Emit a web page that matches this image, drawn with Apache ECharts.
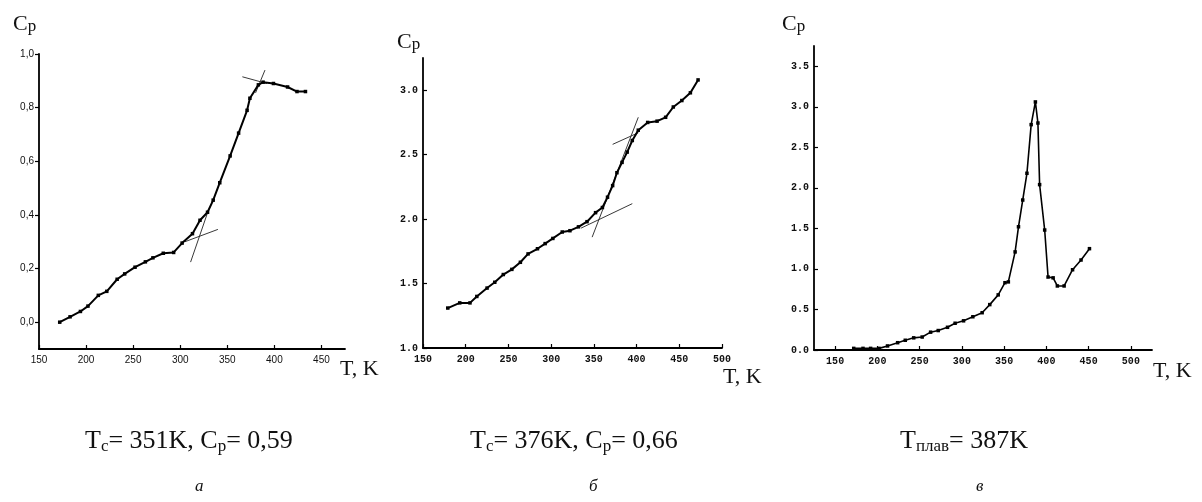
<!DOCTYPE html>
<html><head><meta charset="utf-8">
<script src="https://cdn.jsdelivr.net/npm/echarts@6/dist/echarts.min.js"></script>
<style>html,body{margin:0;padding:0;background:#fff}#c{width:1202px;height:502px}</style>
</head><body><div id="c"></div>
<script>
// ---- data ----
const tA  = [172,183,194,202,213,222,233,241,252,263,271,282,293,302,313,321,329,335,342,353,362,371,374,383,388,399,414,424,433];
const cpA = [0.00,0.02,0.04,0.06,0.10,0.115,0.16,0.18,0.205,0.225,0.24,0.257,0.26,0.295,0.33,0.38,0.41,0.455,0.52,0.62,0.705,0.79,0.835,0.885,0.895,0.89,0.877,0.86,0.86];
const tanA1 = [[305,0.30],[340,0.346]];
const tanA2 = [[311,0.224],[330,0.418]];
const tanA3 = [[366,0.915],[392,0.89]];
const tanA4 = [[380,0.855],[390,0.94]];

const tB  = [179,193,205,213,225,234,244,254,264,273,284,293,302,313,322,332,342,352,360,366,372,377,383,389,395,402,413,424,434,443,453,463,472];
const cpB = [1.31,1.35,1.35,1.40,1.465,1.51,1.57,1.61,1.665,1.73,1.77,1.81,1.85,1.90,1.91,1.94,1.98,2.05,2.09,2.17,2.26,2.36,2.44,2.52,2.61,2.69,2.75,2.76,2.79,2.87,2.92,2.98,3.08];
const tanB1 = [[335,1.93],[395,2.12]];
const tanB2 = [[348,1.86],[402,2.79]];
const tanB3 = [[372,2.58],[402,2.67]];

const tC  = [172,183,192,202,212,224,233,243,253,263,272,283,292,302,313,324,333,343,351,355,363,367,372,377,382,387,390,392,398,402,408,413,421,431,441,451];
const cpC = [0.02,0.02,0.02,0.02,0.05,0.09,0.12,0.15,0.16,0.22,0.24,0.28,0.33,0.36,0.41,0.46,0.56,0.68,0.83,0.84,1.21,1.52,1.85,2.18,2.78,3.06,2.80,2.04,1.48,0.90,0.89,0.79,0.79,0.99,1.11,1.25];

const xTicksA = [150,200,250,300,350,400,450];
const yTicksA = [0.0,0.2,0.4,0.6,0.8,1.0];
const xTicksB = [150,200,250,300,350,400,450,500];
const yTicksB = [1.0,1.5,2.0,2.5,3.0];
const xTicksC = [150,200,250,300,350,400,450,500];
const yTicksC = [0.0,0.5,1.0,1.5,2.0,2.5,3.0,3.5];

const captionA = ['Tc','= 351K, ','Cp','= 0,59'];
const captionB = ['Tc','= 376K, ','Cp','= 0,66'];
const captionC = ['Tплав','= 387K'];
const panelLetters = ['а','б','в'];

// ---- build ----
const zip = (xs, ys) => xs.map((x, i) => [x, ys[i]]);
const chart = echarts.init(document.getElementById('c'), null, {renderer: 'canvas'});

function xAxis(gi, min, max, ticks, font, size, weight) {
  return {
    type: 'value', gridIndex: gi, min: min, max: max,
    axisLine: {show: true, onZero: false, lineStyle: {color: '#000', width: 1.8}},
    axisTick: {show: true, inside: true, length: 4, customValues: ticks, lineStyle: {color: '#000', width: 1.2}},
    axisLabel: {customValues: ticks, color: '#111', fontFamily: font, fontSize: size, fontWeight: weight, margin: 6},
    splitLine: {show: false}
  };
}
function yAxis(gi, min, max, ticks, font, size, weight, fmt, inside) {
  return {
    type: 'value', gridIndex: gi, min: min, max: max,
    axisLine: {show: true, onZero: false, lineStyle: {color: '#000', width: 1.8}},
    axisTick: {show: true, inside: inside, length: 4, customValues: ticks, lineStyle: {color: '#000', width: 1.2}},
    axisLabel: {customValues: ticks, color: '#111', fontFamily: font, fontSize: size, fontWeight: weight, margin: 5, formatter: fmt},
    splitLine: {show: false}
  };
}
const commaFmt = v => v.toFixed(1).replace('.', ',');
const dotFmt = v => v.toFixed(1);

function dataSeries(xi, d, w) {
  return {type: 'line', xAxisIndex: xi, yAxisIndex: xi, data: d, symbol: 'rect', symbolSize: 3.5,
    showSymbol: true, lineStyle: {color: '#000', width: w}, itemStyle: {color: '#000'}, animation: false, z: 3};
}
function tanSeries(xi, d) {
  return {type: 'line', xAxisIndex: xi, yAxisIndex: xi, data: d, symbol: 'none',
    lineStyle: {color: '#222', width: 0.9}, animation: false, z: 2};
}

function cpText(x, y) {
  return {type: 'text', left: x, top: y, style: {
    text: '{c|C}{p|p}',
    rich: {c: {fontFamily: 'Liberation Serif', fontSize: 22, fill: '#111'},
           p: {fontFamily: 'Liberation Serif', fontSize: 17, fill: '#111', padding: [5, 0, 0, 0]}}
  }};
}
function tkText(x, y) {
  return {type: 'text', left: x, top: y, style: {text: 'T, K', fontFamily: 'Liberation Serif', fontSize: 22, fill: '#111'}};
}
const capRich = {
  m: {fontFamily: 'Liberation Serif', fontSize: 26, fill: '#111'},
  s: {fontFamily: 'Liberation Serif', fontSize: 17, fill: '#111', padding: [12, 0, 0, 0]}
};
function caption(x, y, parts) {
  let txt = '';
  parts.forEach(p => {
    if (p.length > 1 && /^[TC]/.test(p) && !/=/.test(p)) txt += '{m|' + p[0] + '}{s|' + p.slice(1) + '}';
    else txt += '{m|' + p + '}';
  });
  return {type: 'text', left: x, top: y, style: {text: txt, rich: capRich}};
}
function letter(x, y, t) {
  return {type: 'text', left: x, top: y, style: {text: t, fontFamily: 'Liberation Serif', fontStyle: 'italic', fontSize: 17, fill: '#111'}};
}

const option = {
  backgroundColor: '#fff',
  animation: false,
  grid: [
    {left: 39, right: 857, top: 54, bottom: 153},
    {left: 423, right: 480, top: 58, bottom: 154},
    {left: 814, right: 50, top: 46, bottom: 152}
  ],
  xAxis: [
    xAxis(0, 150, 475, xTicksA, 'Liberation Sans', 10, 'normal'),
    xAxis(1, 150, 500, xTicksB, 'Liberation Mono', 10, 'bold'),
    xAxis(2, 125, 525, xTicksC, 'Liberation Mono', 10, 'bold')
  ],
  yAxis: [
    yAxis(0, -0.1, 1.0, yTicksA, 'Liberation Sans', 10, 'normal', commaFmt, false),
    yAxis(1, 1.0, 3.25, yTicksB, 'Liberation Mono', 10, 'bold', dotFmt, true),
    yAxis(2, 0, 3.75, yTicksC, 'Liberation Mono', 10, 'bold', dotFmt, true)
  ],
  series: [
    dataSeries(0, zip(tA, cpA), 2),
    tanSeries(0, tanA1), tanSeries(0, tanA2), tanSeries(0, tanA3), tanSeries(0, tanA4),
    dataSeries(1, zip(tB, cpB), 2),
    tanSeries(1, tanB1), tanSeries(1, tanB2), tanSeries(1, tanB3),
    dataSeries(2, zip(tC, cpC), 1.6)
  ],
  graphic: [
    cpText(13, 13), cpText(397, 31), cpText(782, 13),
    tkText(340, 358), tkText(723, 366), tkText(1153, 360),
    caption(85, 428, captionA), caption(470, 428, captionB), caption(900, 428, captionC),
    letter(195, 478, panelLetters[0]), letter(589, 478, panelLetters[1]), letter(976, 478, panelLetters[2])
  ]
};
chart.setOption(option);
</script></body></html>
